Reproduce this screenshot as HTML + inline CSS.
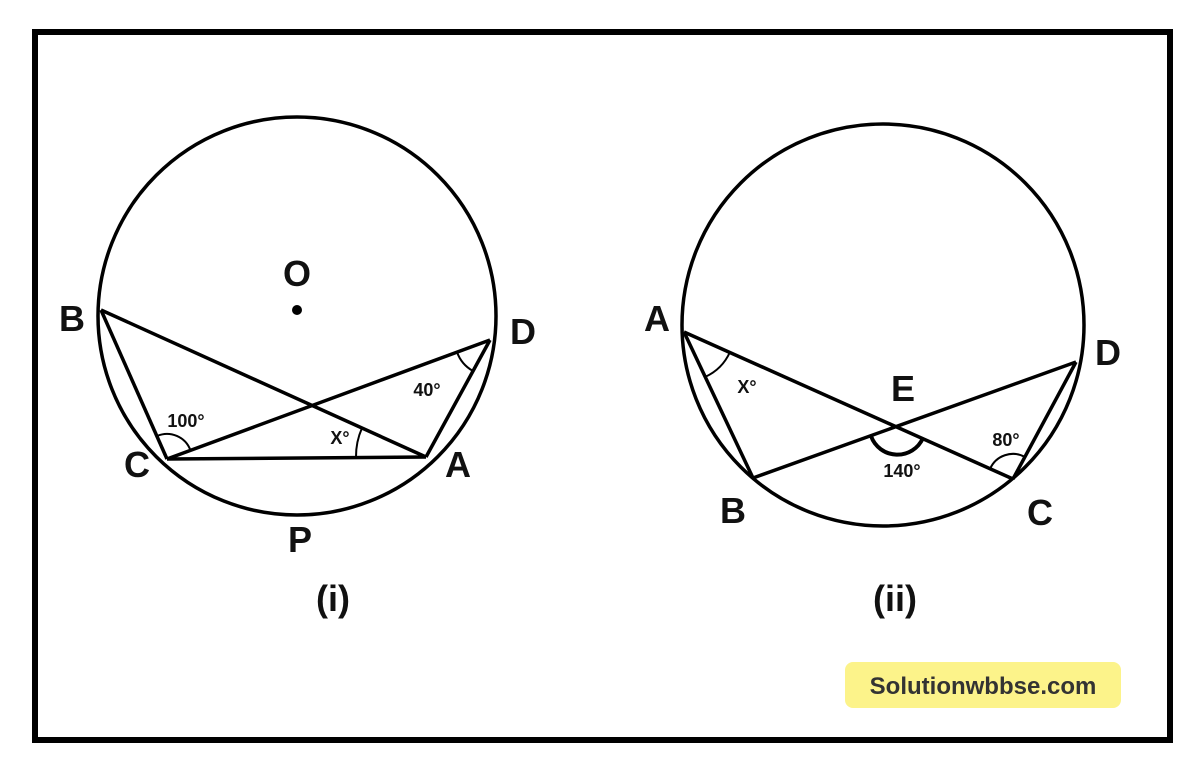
<!DOCTYPE html>
<html><head><meta charset="utf-8"><style>
html,body{margin:0;padding:0;background:#fff;}
svg{display:block;}
text{font-family:"Liberation Sans",sans-serif;font-weight:bold;fill:#111;text-anchor:middle;}
</style></head><body>
<svg width="1200" height="765" viewBox="0 0 1200 765">
<rect x="35" y="32" width="1135" height="708" fill="none" stroke="#000" stroke-width="6"/>
<g fill="none" stroke="#000" stroke-width="3.5">
<circle cx="297" cy="316" r="199"/>
<line x1="101" y1="310" x2="426" y2="457"/>
<line x1="167" y1="459" x2="490" y2="340"/>
<line x1="167" y1="459" x2="426" y2="457"/>
<line x1="101" y1="310" x2="167" y2="459"/>
<line x1="490" y1="340" x2="426" y2="457"/>
<path d="M157 436 A25 25 0 0 1 190.5 450.4" stroke-width="2"/>
<path d="M362 428 A70 70 0 0 0 356 457" stroke-width="2"/>
<path d="M457 352 A35 35 0 0 0 473 371" stroke-width="2"/>

<circle cx="883" cy="325" r="201"/>
<line x1="684" y1="332" x2="1013" y2="479"/>
<line x1="753" y1="478" x2="1076" y2="362"/>
<line x1="684" y1="332" x2="753" y2="478"/>
<line x1="1076" y1="362" x2="1013" y2="479"/>
<path d="M705 377 A50 50 0 0 0 730 352" stroke-width="2"/>
<path d="M990 469 A25 25 0 0 1 1025 457" stroke-width="2"/>
<path d="M871 436 A28 28 0 0 0 923 438" stroke-width="4"/>
</g>
<circle cx="297" cy="310" r="5" fill="#000"/>
<g font-size="36">
<text x="72" y="331">B</text>
<text x="297" y="286">O</text>
<text x="523" y="344">D</text>
<text x="137" y="477">C</text>
<text x="458" y="477">A</text>
<text x="300" y="552">P</text>
<text x="333" y="611">(i)</text>
<text x="657" y="331">A</text>
<text x="903" y="401">E</text>
<text x="1108" y="365">D</text>
<text x="733" y="523">B</text>
<text x="1040" y="525">C</text>
<text x="895" y="611">(ii)</text>
</g>
<g font-size="18">
<text x="186" y="427">100°</text>
<text x="340" y="444">X°</text>
<text x="427" y="396">40°</text>
<text x="747" y="393">X°</text>
<text x="1006" y="446">80°</text>
<text x="902" y="477">140°</text>
</g>
<rect x="845" y="662" width="276" height="46" rx="8" fill="#fcf38a"/>
<text x="983" y="694" font-size="24" style="fill:#333">Solutionwbbse.com</text>
</svg>
</body></html>
